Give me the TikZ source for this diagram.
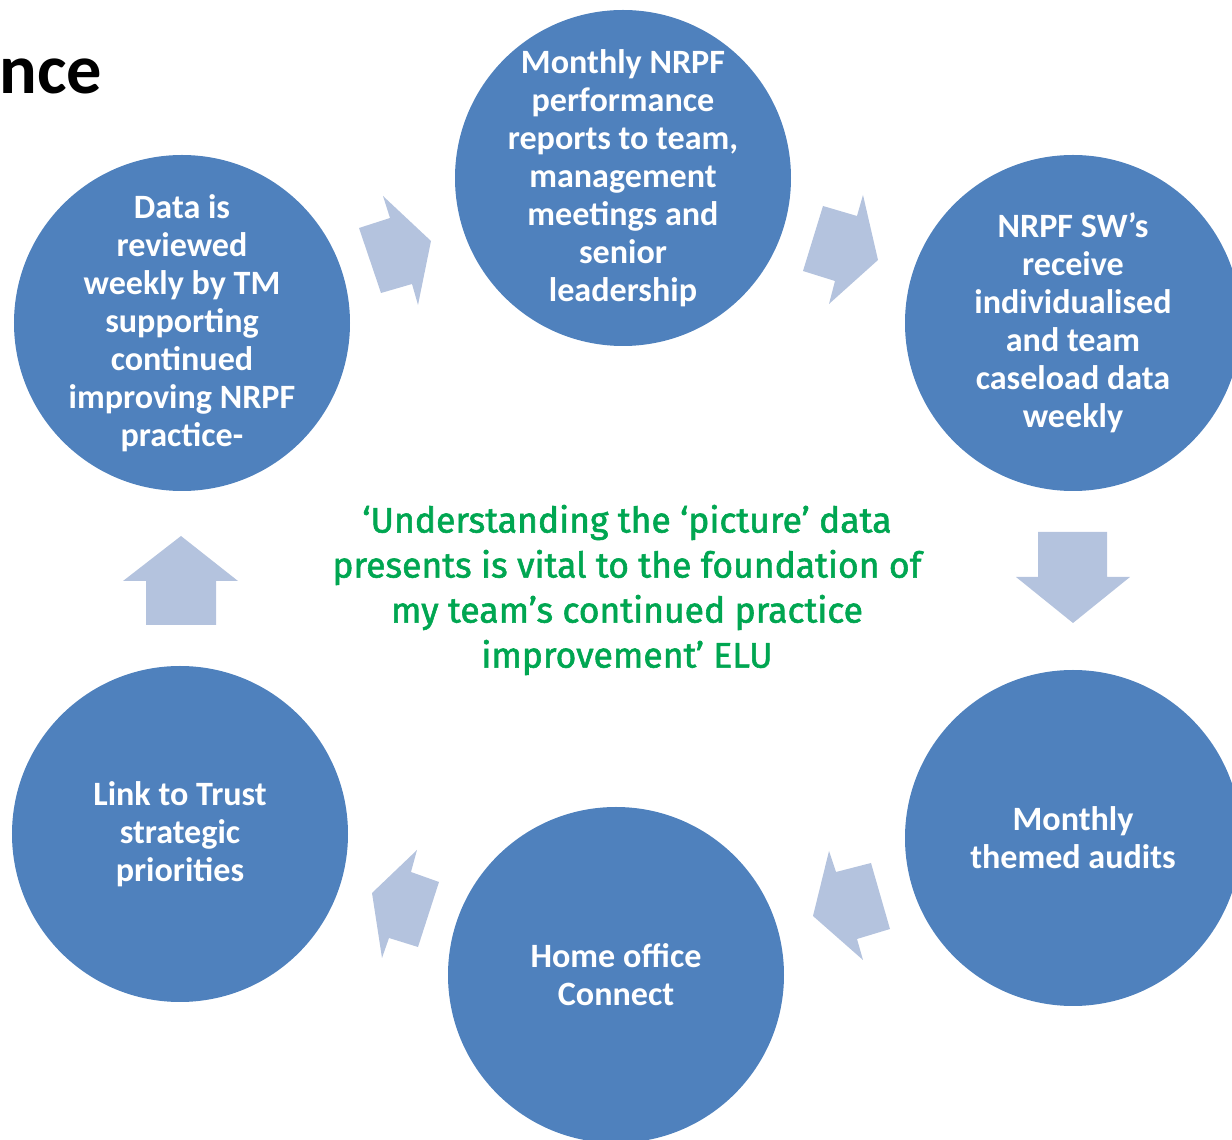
\documentclass[tikz,border=0pt]{standalone}
\usepackage{fontspec}
\setmainfont{Carlito}
\newfontfamily\quotefont[FakeBold=1.6]{Fira Sans}
\definecolor{cycleblue}{RGB}{79,129,189}
\definecolor{arrowblue}{RGB}{180,195,222}
\definecolor{quotegreen}{RGB}{0,166,81}
\begin{document}
\begin{tikzpicture}
[
 x=0.01cm, y=-0.01cm,
 inner sep=0mm,
 CIRC/.style={fill=cycleblue},
 CIRCTEXT/.style={text=white, align=center,
              font=\fontsize{9.7}{10.8}\selectfont\bfseries},
 ARROWSHAPE/.style={fill=arrowblue},
 ]
%
\useasboundingbox (0,0) rectangle (1232,1140);
\clip (0,0) rectangle (1232,1140);
%
\node [anchor=base east, font=\fontsize{20}{24}\selectfont\bfseries] (TITLE) at (103,94) {nce};
%
\foreach \x/\y in {623/178, 1073/323, 1073/838, 616/975, 180/834, 182/323}
   {
     \fill [CIRC] (\x,\y) circle (168);
   }
%
\node [CIRCTEXT]  (TC)  at ( 623, 178)  {Monthly NRPF\\performance\\reports to team,\\management\\meetings and\\senior\\leadership};
\node [CIRCTEXT]  (TR)  at (1073, 323)  {NRPF SW’s\\receive\\individualised\\and team\\caseload data\\weekly};
\node [CIRCTEXT]  (BR)  at (1073, 838)  {Monthly\\themed audits};
\node [CIRCTEXT]  (BC)  at ( 616, 975)  {Home office\\Connect};
\node [CIRCTEXT]  (BL)  at ( 180, 834)  {Link to Trust\\strategic\\priorities};
\node [CIRCTEXT]  (TL)  at ( 182, 323)  {Data is\\reviewed\\weekly by TM\\supporting\\continued\\improving NRPF\\practice-};
%
\node [text=quotegreen, align=center, font=\fontsize{10.1}{12.8}\selectfont\quotefont] (QUOTE) at (627,590)
  {‘Understanding the ‘picture’ data\\presents is vital to the foundation of\\my team’s continued practice\\improvement’ ELU};
%
\fill [ARROWSHAPE] (359,228) -- (390,218) -- (383,196) -- (431,241) -- (418,305) -- (412,284) -- (381,293) -- cycle;
\fill [ARROWSHAPE] (823,206) -- (857,216) -- (863,195) -- (878,260) -- (829,304) -- (835,281) -- (803,271) -- cycle;
\fill [ARROWSHAPE] (1038,532) -- (1107,532) -- (1107,577) -- (1130,577) -- (1073,623) -- (1016,577) -- (1038,577) -- cycle;
\fill [ARROWSHAPE] (829,851) -- (836,872) -- (871,863) -- (890,929) -- (857,939) -- (863,960) -- (813,916) -- cycle;
\fill [ARROWSHAPE] (417,850) -- (411,872) -- (439,882) -- (418,947) -- (389,938) -- (382,958) -- (372,893) -- cycle;
\fill [ARROWSHAPE] (146,625) -- (146,581) -- (123,581) -- (181,536) -- (238,581) -- (216,581) -- (216,625) -- cycle;
%
\end{tikzpicture}
\end{document}
